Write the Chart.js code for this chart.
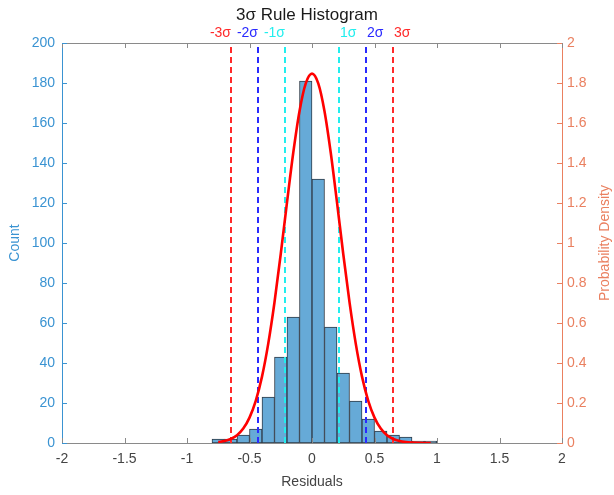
<!DOCTYPE html>
<html><head><meta charset="utf-8">
<script src="https://cdn.jsdelivr.net/npm/chart.js@4.4.0/dist/chart.umd.min.js"></script>
<style>html,body{margin:0;padding:0;background:#fff;} canvas{display:block;}</style>
</head><body>
<canvas id="c" width="614" height="495"></canvas>
<script>
// ---- data ----
const binCenters = [-0.75,-0.65,-0.55,-0.45,-0.35,-0.25,-0.15,-0.05,0.05,0.15,0.25,0.35,0.45,0.55,0.65,0.75,0.85,0.95];
const counts     = [2,2,4,7,23,43,63,181,132,58,35,21,12,6,4,3,1,1];
const curveX = [-0.75,-0.70,-0.65,-0.60,-0.55,-0.50,-0.45,-0.40,-0.35,-0.30,-0.25,-0.20,-0.15,-0.10,-0.05,0,
                0.05,0.10,0.15,0.20,0.25,0.30,0.35,0.40,0.45,0.50,0.55,0.60,0.65,0.70,0.75,0.80,0.85,0.90,0.95];
const curveDensity = [0.0045,0.0097,0.0200,0.0390,0.0722,0.127,0.211,0.332,0.497,0.704,0.945,1.203,1.451,1.659,1.798,1.847,
                1.798,1.659,1.451,1.203,0.945,0.704,0.497,0.332,0.211,0.127,0.0722,0.0390,0.0200,0.0097,0.0045,0.0019,0.0008,0.0003,0.0001];
const sigmaValues = [-0.648,-0.432,-0.216,0.216,0.432,0.648];
const sigmaLabels = ['-3σ','-2σ','-1σ','1σ','2σ','3σ'];
const countRange = [0, 200];
const densityRange = [0, 2];
const residualRange = [-2, 2];

// ---- styles ----
const FONT = '"Liberation Sans", Arial, Helvetica, sans-serif';
const LEFT_C = '#3a93d2';
const RIGHT_C = '#ea8060';
const AX_C = '#444444';
const sigmaColors = ['#ff2a2a','#2a2aff','#22eeee','#22eeee','#2a2aff','#ff2a2a'];

const fmt = v => String(Math.round(v * 10) / 10);

const sigmaDatasets = sigmaValues.map((s, i) => ({
  type: 'line',
  data: [{x: s, y: countRange[0]}, {x: s, y: countRange[1]}],
  yAxisID: 'y',
  borderColor: sigmaColors[i],
  borderWidth: 2,
  borderDash: [6, 4],
  pointRadius: 0,
  order: 1
}));

const decor = {
  id: 'decor',
  afterDraw(chart) {
    const {ctx, chartArea: a, scales} = chart;
    ctx.save();
    ctx.lineWidth = 1;
    // top border
    ctx.strokeStyle = '#8a8a8a';
    ctx.beginPath(); ctx.moveTo(a.left, a.top + 0.5); ctx.lineTo(a.right, a.top + 0.5); ctx.stroke();
    // x ticks inward (bottom & top)
    scales.x.ticks.forEach(t => {
      const px = Math.round(scales.x.getPixelForValue(t.value)) + 0.5;
      ctx.beginPath();
      ctx.moveTo(px, a.bottom); ctx.lineTo(px, a.bottom - 5);
      ctx.moveTo(px, a.top); ctx.lineTo(px, a.top + 5);
      ctx.stroke();
    });
    // left ticks
    ctx.strokeStyle = LEFT_C;
    scales.y.ticks.forEach(t => {
      const py = Math.round(scales.y.getPixelForValue(t.value)) + 0.5;
      ctx.beginPath(); ctx.moveTo(a.left, py); ctx.lineTo(a.left + 5, py); ctx.stroke();
    });
    // right ticks
    ctx.strokeStyle = RIGHT_C;
    scales.y1.ticks.forEach(t => {
      const py = Math.round(scales.y1.getPixelForValue(t.value)) + 0.5;
      ctx.beginPath(); ctx.moveTo(a.right, py); ctx.lineTo(a.right - 5, py); ctx.stroke();
    });
    // right axis title, reading bottom-to-top
    ctx.save();
    ctx.translate(scales.y1.right - 9, (a.top + a.bottom) / 2);
    ctx.rotate(-Math.PI / 2);
    ctx.font = '14px ' + FONT;
    ctx.fillStyle = RIGHT_C;
    ctx.textAlign = 'center';
    ctx.textBaseline = 'middle';
    ctx.fillText('Probability Density', 0, 0);
    ctx.restore();
    // sigma labels
    ctx.font = '14px ' + FONT;
    ctx.textBaseline = 'middle';
    sigmaValues.forEach((s, i) => {
      const px = scales.x.getPixelForValue(s);
      ctx.fillStyle = sigmaColors[i];
      ctx.textAlign = s < 0 ? 'right' : 'left';
      ctx.fillText(sigmaLabels[i], s < 0 ? px : px + 1, 33.5);
    });
    ctx.restore();
  }
};

new Chart(document.getElementById('c'), {
  type: 'bar',
  data: {
    datasets: [
      {
        type: 'line',
        data: curveX.map((x, i) => ({x, y: curveDensity[i]})),
        yAxisID: 'y1',
        borderColor: '#ff0000',
        borderWidth: 2.6,
        pointRadius: 0,
        cubicInterpolationMode: 'monotone',
        order: 0
      },
      ...sigmaDatasets,
      {
        type: 'bar',
        data: binCenters.map((x, i) => ({x, y: counts[i]})),
        yAxisID: 'y',
        backgroundColor: '#66aad7',
        borderColor: '#2f3b47',
        borderWidth: 1,
        borderSkipped: false,
        barPercentage: 1,
        categoryPercentage: 1,
        order: 2
      }
    ]
  },
  options: {
    responsive: false,
    devicePixelRatio: 1,
    animation: false,
    layout: {padding: 0},
    plugins: {
      legend: {display: false},
      tooltip: {enabled: false},
      title: {
        display: true,
        text: '3σ Rule Histogram',
        color: '#1a1a1a',
        font: {family: FONT, size: 17, weight: 'normal', lineHeight: 1.2},
        padding: {top: 5.3, bottom: 17.3}
      }
    },
    scales: {
      x: {
        type: 'linear',
        position: 'bottom',
        min: residualRange[0], max: residualRange[1],
        offset: false,
        grid: {display: false, drawTicks: false},
        border: {display: true, color: '#8a8a8a', width: 1},
        ticks: {stepSize: 0.5, color: AX_C, padding: 8, font: {family: FONT, size: 14}, callback: fmt, maxRotation: 0, autoSkip: false},
        title: {display: true, text: 'Residuals', color: AX_C, font: {family: FONT, size: 14, lineHeight: 1.2}, padding: {top: 0, bottom: 4}},
        afterFit(s) { s.height = 52; }
      },
      y: {
        type: 'linear',
        position: 'left',
        min: countRange[0], max: countRange[1],
        grid: {display: false, drawTicks: false},
        border: {display: true, color: LEFT_C, width: 1},
        ticks: {stepSize: 20, color: LEFT_C, padding: 7, font: {family: FONT, size: 14}, callback: fmt},
        title: {display: true, text: 'Count', color: LEFT_C, font: {family: FONT, size: 14, lineHeight: 1.2}, padding: {top: 6.6, bottom: 0}},
        afterFit(s) { s.width = 62; }
      },
      y1: {
        type: 'linear',
        position: 'right',
        min: densityRange[0], max: densityRange[1],
        grid: {display: false, drawTicks: false},
        border: {display: true, color: RIGHT_C, width: 1},
        ticks: {stepSize: 0.2, color: RIGHT_C, padding: 5, font: {family: FONT, size: 14}, callback: fmt},
        title: {display: false},
        afterFit(s) { s.width = 52; }
      }
    }
  },
  plugins: [decor]
});
</script>
</body></html>
